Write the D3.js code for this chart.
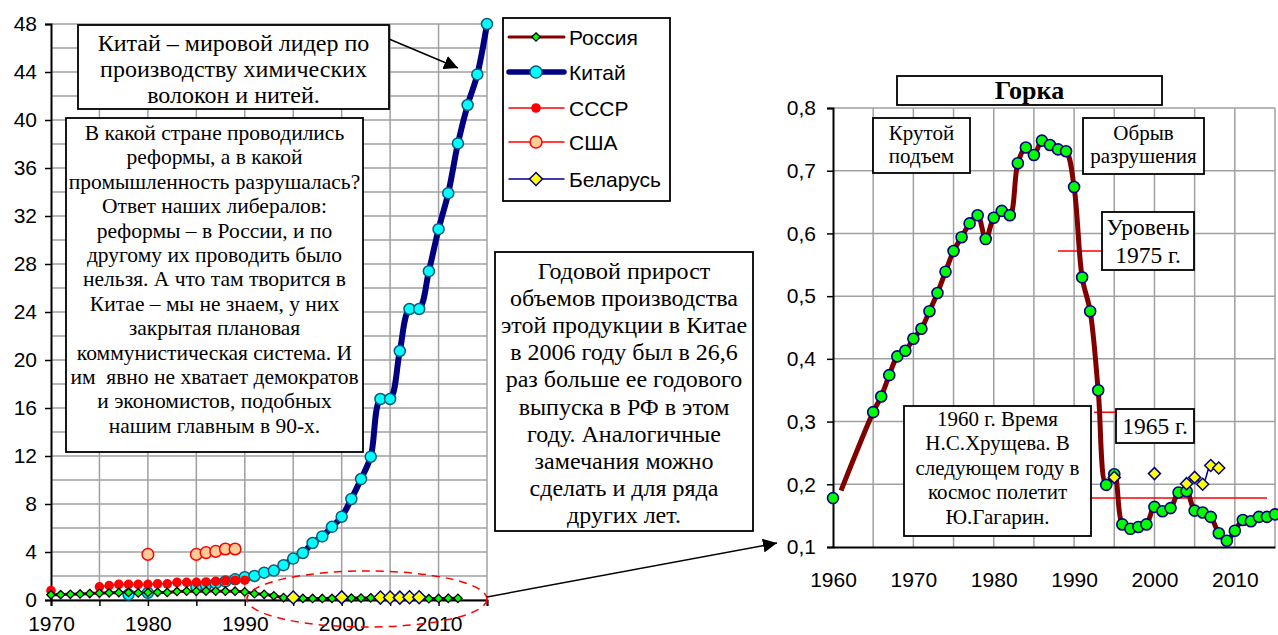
<!DOCTYPE html>
<html>
<head>
<meta charset="utf-8">
<script src="https://cdn.jsdelivr.net/npm/d3@7"></script>
<style>
  body { margin: 0; background: #fff; }
  svg { display: block; }
  .serif { font-family: "Liberation Serif", "Times New Roman", serif; white-space: pre; }
  .sans { font-family: "Liberation Sans", Arial, sans-serif; }
</style>
</head>
<body>
<div id="chart"></div>
<script>
// ---- data ----
// Russia: same series on both charts (left shows 1970-2012)
const russiaYears = [1960, 1961, 1965, 1966, 1967, 1968, 1969, 1970, 1971, 1972, 1973, 1974, 1975, 1976, 1977, 1978, 1979,
  1980, 1981, 1982, 1983, 1984, 1985, 1986, 1987, 1988, 1989, 1990, 1991, 1992, 1993, 1994, 1995, 1996, 1997, 1998, 1999,
  2000, 2001, 2002, 2003, 2004, 2005, 2006, 2007, 2008, 2009, 2010, 2011, 2012, 2013, 2014, 2015];
const russiaValues = [0.178, 0.19, 0.315, 0.34, 0.374, 0.404, 0.413, 0.432, 0.448, 0.476, 0.505, 0.539, 0.572, 0.594, 0.616, 0.629, 0.591,
  0.625, 0.636, 0.629, 0.712, 0.737, 0.725, 0.748, 0.741, 0.734, 0.731, 0.674, 0.530, 0.476, 0.350, 0.199, 0.216, 0.136, 0.129, 0.132, 0.136,
  0.164, 0.157, 0.162, 0.187, 0.189, 0.158, 0.155, 0.148, 0.122, 0.110, 0.126, 0.143, 0.141, 0.148, 0.148, 0.152];
const russiaNoMarker = [1961];

const chinaYears = [1978, 1980, 1985, 1986, 1987, 1988, 1989, 1990, 1991, 1992, 1993, 1994, 1995, 1996, 1997, 1998, 1999,
  2000, 2001, 2002, 2003, 2004, 2005, 2006, 2007, 2008, 2009, 2010, 2011, 2012, 2013, 2014, 2015];
const chinaValues = [0.45, 0.6, 1.1, 1.25, 1.38, 1.55, 1.72, 1.9, 2.0, 2.28, 2.45, 2.9, 3.45, 3.92, 4.75, 5.3, 6.1,
  6.94, 8.42, 10.08, 11.94, 16.75, 16.75, 20.75, 24.25, 24.25, 27.4, 30.9, 33.9, 38.05, 41.25, 43.8, 48.0];

const ussrYears = [1970, 1975, 1976, 1977, 1978, 1979, 1980, 1981, 1982, 1983, 1984, 1985, 1986, 1987, 1988, 1989, 1990];
const ussrValues = [0.78, 1.1, 1.2, 1.3, 1.3, 1.3, 1.3, 1.35, 1.35, 1.47, 1.47, 1.47, 1.5, 1.55, 1.6, 1.65, 1.65];

const usaYears = [1980, 1985, 1986, 1987, 1988, 1989];
const usaValues = [3.8, 3.8, 3.95, 4.05, 4.25, 4.25];

const belarusYears = [1995, 2000, 2004, 2005, 2006, 2007, 2008];
const belarusValues = [0.211, 0.217, 0.201, 0.211, 0.200, 0.230, 0.226];

const leftYTicks = d3.range(0, 49, 4);
const leftXTicks = [1970, 1980, 1990, 2000, 2010];
const rightYTicks = [0.1, 0.2, 0.3, 0.4, 0.5, 0.6, 0.7, 0.8];
const rightXTicks = [1960, 1970, 1980, 1990, 2000, 2010];

const legendNames = ['Россия', 'Китай', 'СССР', 'США', 'Беларусь'];

// reference levels on the right chart (year whose Russia value is drawn)
const levelYears = [1975, 1965, 1960];

// ---- helpers ----
const W = 1278, H = 635;
const svg = d3.select('#chart').append('svg').attr('width', W).attr('height', H);

function series(years, values) {
  return years.map((y, i) => ({ year: y, value: values[i] }));
}
// split into runs of consecutive years (gaps break the line)
function runs(data) {
  const out = [];
  let cur = [];
  data.forEach((d, i) => {
    if (i > 0 && d.year - data[i - 1].year > 1) { out.push(cur); cur = []; }
    cur.push(d);
  });
  if (cur.length) out.push(cur);
  return out;
}
const diamond = s => `M0,${-s}L${s},0L0,${s}L${-s},0Z`;

const russia = series(russiaYears, russiaValues);
const china = series(chinaYears, chinaValues);
const ussr = series(ussrYears, ussrValues);
const usa = series(usaYears, usaValues);
const belarus = series(belarusYears, belarusValues);

function styleAxis(a, size) {
  a.select('.domain').attr('stroke', '#000').attr('stroke-width', 2);
  a.selectAll('.tick line').attr('stroke', '#000').attr('stroke-width', 1.5);
  a.selectAll('text').attr('class', 'sans').attr('font-size', size).attr('fill', '#000');
}

// ---- left chart ----
const xL = d3.scaleLinear().domain([1970, 2015]).range([51, 487]);
const yL = d3.scaleLinear().domain([0, 48]).range([600, 24]);
const gL = svg.append('g');

// grid
gL.append('g').selectAll('line').data(d3.range(0, 49, 2)).join('line')
  .attr('x1', xL(1970)).attr('x2', xL(2015))
  .attr('y1', d => yL(d)).attr('y2', d => yL(d))
  .attr('stroke', '#a0a0a0').attr('stroke-width', 1.5);
gL.append('g').selectAll('line').data(d3.range(1975, 2016, 5)).join('line')
  .attr('x1', d => xL(d)).attr('x2', d => xL(d))
  .attr('y1', yL(0)).attr('y2', yL(48))
  .attr('stroke', '#a0a0a0').attr('stroke-width', 1.5);

// axes
const axL = gL.append('g').attr('transform', `translate(${xL(1970)},0)`)
  .call(d3.axisLeft(yL).tickValues(leftYTicks).tickSize(6).tickPadding(8));
const axB = gL.append('g').attr('transform', `translate(0,${yL(0)})`)
  .call(d3.axisBottom(xL).tickValues(d3.range(1970, 2016, 5)).tickSize(6)
    .tickFormat(d => leftXTicks.includes(d) ? d : ''));
styleAxis(axL, 21);
styleAxis(axB, 21);
axB.selectAll('text').attr('dy', null).attr('y', 31);

const lineL = d3.line().x(d => xL(d.year)).y(d => yL(d.value)).curve(d3.curveCatmullRom.alpha(0.5));

// Russia
const rusLeft = russia.filter(d => d.year >= 1970 && d.year <= 2012);
gL.append('path').attr('d', lineL(rusLeft)).attr('fill', 'none').attr('stroke', '#800000').attr('stroke-width', 3);

// China
runs(china).forEach(r => {
  if (r.length > 1) gL.append('path').attr('d', lineL(r)).attr('fill', 'none')
    .attr('stroke', '#000080').attr('stroke-width', 6).attr('stroke-linejoin', 'round');
});
gL.append('g').selectAll('circle').data(china).join('circle')
  .attr('cx', d => xL(d.year)).attr('cy', d => yL(d.value)).attr('r', 5.5)
  .attr('fill', '#00ffff').attr('stroke', '#0b5a78').attr('stroke-width', 1.5);

// USSR
runs(ussr).forEach(r => {
  if (r.length > 1) gL.append('path').attr('d', lineL(r)).attr('fill', 'none').attr('stroke', '#ff0000').attr('stroke-width', 1.5);
});
gL.append('g').selectAll('circle').data(ussr).join('circle')
  .attr('cx', d => xL(d.year)).attr('cy', d => yL(d.value)).attr('r', 4.8).attr('fill', '#ff0000');

// USA
runs(usa).forEach(r => {
  if (r.length > 1) gL.append('path').attr('d', lineL(r)).attr('fill', 'none').attr('stroke', '#ff0000').attr('stroke-width', 1.5);
});
gL.append('g').selectAll('circle').data(usa).join('circle')
  .attr('cx', d => xL(d.year)).attr('cy', d => yL(d.value)).attr('r', 5.8)
  .attr('fill', '#ffcc99').attr('stroke', '#ff0000').attr('stroke-width', 1.5);

// Russia markers
gL.append('g').selectAll('path').data(rusLeft).join('path')
  .attr('transform', d => `translate(${xL(d.year)},${yL(d.value)})`).attr('d', diamond(4.2))
  .attr('fill', '#00ff00').attr('stroke', '#000').attr('stroke-width', 1.3);

// Belarus
runs(belarus).forEach(r => {
  if (r.length > 1) gL.append('path').attr('d', lineL(r)).attr('fill', 'none').attr('stroke', '#000080').attr('stroke-width', 1.5);
});
gL.append('g').selectAll('path').data(belarus).join('path')
  .attr('transform', d => `translate(${xL(d.year)},${yL(d.value)})`).attr('d', diamond(6.5))
  .attr('fill', '#ffff00').attr('stroke', '#000080').attr('stroke-width', 1.5);

// dashed ellipse around the low values
gL.append('ellipse').attr('cx', 367).attr('cy', 599).attr('rx', 120).attr('ry', 28)
  .attr('fill', 'none').attr('stroke', '#ff0000').attr('stroke-width', 1.5).attr('stroke-dasharray', '8,6');

// ---- annotation boxes ----
function textBox(x, y, w, h, lines, size, lh, first, opts = {}) {
  const g = svg.append('g');
  g.append('rect').attr('x', x).attr('y', y).attr('width', w).attr('height', h)
    .attr('fill', '#fff').attr('stroke', '#000').attr('stroke-width', 1.8);
  g.append('g').selectAll('text').data(lines).join('text')
    .attr('class', 'serif').attr('x', x + w / 2).attr('y', (d, i) => first + i * lh)
    .attr('text-anchor', 'middle').attr('font-size', size)
    .attr('font-weight', opts.bold ? 'bold' : null).text(d => d);
  return g;
}

const defs = svg.append('defs');
defs.append('marker').attr('id', 'arr').attr('viewBox', '0 0 10 10').attr('refX', 10).attr('refY', 5)
  .attr('markerWidth', 14).attr('markerHeight', 14).attr('markerUnits', 'userSpaceOnUse').attr('orient', 'auto')
  .append('path').attr('d', 'M0,0L10,5L0,10Z').attr('fill', '#000');

svg.append('line').attr('x1', 389).attr('y1', 39).attr('x2', 458).attr('y2', 68)
  .attr('stroke', '#000').attr('stroke-width', 1.5).attr('marker-end', 'url(#arr)');

textBox(78, 25, 311, 84, ['Китай – мировой лидер по', 'производству химических', 'волокон и нитей.'], 24, 26, 51);

textBox(66, 118, 297, 334, [
  'В какой стране проводились',
  'реформы, а в какой',
  'промышленность разрушалась?',
  'Ответ наших либералов:',
  'реформы – в России, и по',
  'другому их проводить было',
  'нельзя. А что там творится в',
  'Китае – мы не знаем, у них',
  'закрытая плановая',
  'коммунистическая система. И',
  'им  явно не хватает демократов',
  'и экономистов, подобных',
  'нашим главным в 90-х.'
], 21.5, 24.4, 140);

textBox(495, 252, 258, 279, [
  'Годовой прирост',
  'объемов производства',
  'этой продукции в Китае',
  'в 2006 году был в 26,6',
  'раз больше ее годового',
  'выпуска в РФ в этом',
  'году. Аналогичные',
  'замечания можно',
  'сделать и для ряда',
  'других лет.'
], 24, 27.1, 279);

svg.append('line').attr('x1', 487).attr('y1', 597).attr('x2', 777).attr('y2', 543)
  .attr('stroke', '#000').attr('stroke-width', 1.5).attr('marker-end', 'url(#arr)');

// ---- legend ----
const lg = svg.append('g');
lg.append('rect').attr('x', 503).attr('y', 18).attr('width', 167).attr('height', 183)
  .attr('fill', '#fff').attr('stroke', '#000').attr('stroke-width', 1.8);
const legendY = [37, 72, 108, 142, 179];
const legendStyles = [
  { stroke: '#800000', w: 3 }, { stroke: '#000080', w: 5.5 }, { stroke: '#ff0000', w: 1.5 },
  { stroke: '#ff0000', w: 1.5 }, { stroke: '#000080', w: 1.5 }
];
legendNames.forEach((name, i) => {
  const y = legendY[i];
  lg.append('line').attr('x1', 509).attr('x2', 564).attr('y1', y).attr('y2', y)
    .attr('stroke', legendStyles[i].stroke).attr('stroke-width', legendStyles[i].w).attr('stroke-linecap', 'round');
  if (i === 0) lg.append('path').attr('transform', `translate(536,${y})`).attr('d', diamond(4.2))
    .attr('fill', '#00ff00').attr('stroke', '#000').attr('stroke-width', 1.3);
  if (i === 1) lg.append('circle').attr('cx', 536).attr('cy', y).attr('r', 6)
    .attr('fill', '#00ffff').attr('stroke', '#0b5a78').attr('stroke-width', 1.5);
  if (i === 2) lg.append('circle').attr('cx', 536).attr('cy', y).attr('r', 4.8).attr('fill', '#ff0000');
  if (i === 3) lg.append('circle').attr('cx', 536).attr('cy', y).attr('r', 6)
    .attr('fill', '#ffcc99').attr('stroke', '#ff0000').attr('stroke-width', 1.5);
  if (i === 4) lg.append('path').attr('transform', `translate(536,${y})`).attr('d', diamond(6.5))
    .attr('fill', '#ffff00').attr('stroke', '#000080').attr('stroke-width', 1.5);
  lg.append('text').attr('class', 'sans').attr('x', 569).attr('y', y + 8).attr('font-size', 21).text(name);
});

// ---- right chart: "Горка" ----
const xR = d3.scaleLinear().domain([1960, 2015]).range([833, 1275]);
const yR = d3.scaleLinear().domain([0.1, 0.8]).range([547, 108]);
const gR = svg.append('g');

gR.append('g').selectAll('line').data(rightYTicks.slice(1)).join('line')
  .attr('x1', xR(1960)).attr('x2', xR(2015)).attr('y1', d => yR(d)).attr('y2', d => yR(d))
  .attr('stroke', '#a0a0a0').attr('stroke-width', 1.5);
gR.append('g').selectAll('line').data(d3.range(1965, 2016, 5)).join('line')
  .attr('x1', d => xR(d)).attr('x2', d => xR(d)).attr('y1', yR(0.1)).attr('y2', yR(0.8))
  .attr('stroke', '#a0a0a0').attr('stroke-width', 1.5);

const axRL = gR.append('g').attr('transform', `translate(${xR(1960)},0)`)
  .call(d3.axisLeft(yR).tickValues(rightYTicks).tickSize(6).tickPadding(11)
    .tickFormat(d => d3.format('.1f')(d).replace('.', ',')));
const axRB = gR.append('g').attr('transform', `translate(0,${yR(0.1)})`)
  .call(d3.axisBottom(xR).tickValues(rightXTicks).tickSize(0).tickFormat(d3.format('d')));
styleAxis(axRL, 21);
styleAxis(axRB, 21);
axRB.selectAll('text').attr('dy', null).attr('y', 40);

// reference level lines
const levelVal = y => russia.find(d => d.year === y).value;
const levelSpans = [[1988, 2001.5], [1992.5, 2002], [1991, 2014]];
levelYears.forEach((yr, i) => {
  gR.append('line').attr('x1', xR(levelSpans[i][0])).attr('x2', xR(levelSpans[i][1]))
    .attr('y1', yR(levelVal(yr))).attr('y2', yR(levelVal(yr)))
    .attr('stroke', '#ff0000').attr('stroke-width', 1.5);
});

const lineR = d3.line().x(d => xR(d.year)).y(d => yR(d.value)).curve(d3.curveCatmullRom.alpha(0.5));
gR.append('path').attr('d', lineR(russia.filter(d => d.year >= 1961))).attr('fill', 'none')
  .attr('stroke', '#800000').attr('stroke-width', 5).attr('stroke-linejoin', 'round');
gR.append('g').selectAll('circle').data(russia.filter(d => !russiaNoMarker.includes(d.year))).join('circle')
  .attr('cx', d => xR(d.year)).attr('cy', d => yR(d.value)).attr('r', 5.5)
  .attr('fill', '#00ff00').attr('stroke', '#000080').attr('stroke-width', 1.6);

runs(belarus).forEach(r => {
  if (r.length > 1) gR.append('path').attr('d', lineR(r)).attr('fill', 'none').attr('stroke', '#000080').attr('stroke-width', 1.5);
});
gR.append('g').selectAll('path').data(belarus).join('path')
  .attr('transform', d => `translate(${xR(d.year)},${yR(d.value)})`).attr('d', diamond(6))
  .attr('fill', '#ffff00').attr('stroke', '#000080').attr('stroke-width', 1.5);

textBox(897, 76, 265, 29, ['Горка'], 26, 0, 99, { bold: true });
textBox(873, 118, 97, 55, ['Крутой', 'подъем'], 21, 23, 140);
textBox(1083, 118, 121, 56, ['Обрыв', 'разрушения'], 21, 23, 140);
textBox(1102, 212, 92, 58, ['Уровень', '1975 г.'], 23.5, 28, 235);
textBox(1116, 409, 78, 34, ['1965 г.'], 23.5, 0, 434);
textBox(904, 406, 187, 130, ['1960 г. Время', 'Н.С.Хрущева. В', 'следующем году в', 'космос полетит', 'Ю.Гагарин.'], 21, 24.4, 426);
</script>
</body>
</html>
